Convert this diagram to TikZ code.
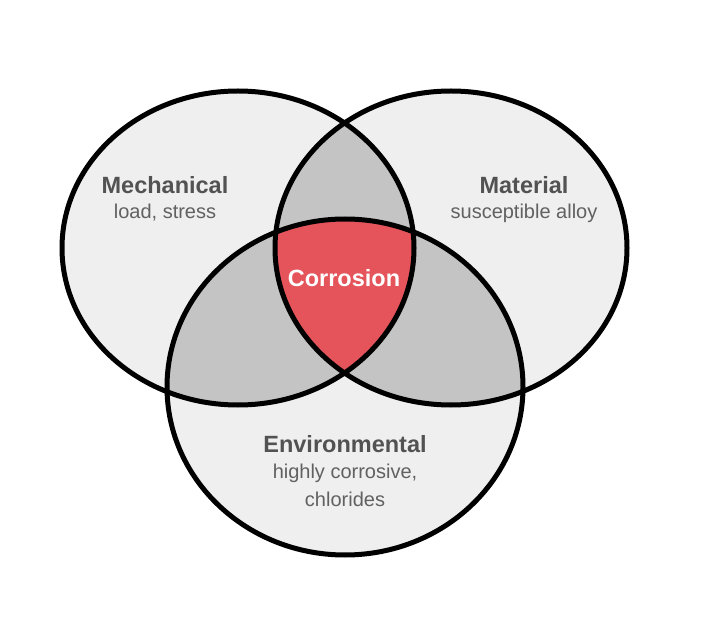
\documentclass[tikz,border=0pt]{standalone}
\usepackage{fontspec}
\setmainfont{Liberation Sans}
\begin{document}
\begin{tikzpicture}[x=1pt,y=-1pt,
  outline/.style={line width=5pt,draw=black},
  head/.style={font=\bfseries\fontsize{23.5}{26}\selectfont,text=black!68},
  sub/.style={font=\fontsize{20}{28}\selectfont,text=black!62,align=center}]
\definecolor{light}{HTML}{EFEFEF}
\definecolor{mid}{HTML}{C4C4C4}
\definecolor{red}{HTML}{E5545A}
\useasboundingbox (0,0) rectangle (726,628);
\def\A{(238,248) ellipse [x radius=176,y radius=157]}
\def\B{(451,248) ellipse [x radius=176,y radius=157]}
\def\C{(345,387) ellipse [x radius=178,y radius=168]}
\fill[light] \A; \fill[light] \B; \fill[light] \C;
\begin{scope}\clip \A; \fill[mid] \B; \fill[mid] \C;\end{scope}
\begin{scope}\clip \B; \fill[mid] \C;\end{scope}
\begin{scope}\clip \A; \clip \B; \fill[red] \C;\end{scope}
\draw[outline] \A; \draw[outline] \B; \draw[outline] \C;
\node[head] (mech) at (165,185) {Mechanical};
\node[sub] (mechs) at (165,213) {load, stress};
\node[head] (mat) at (524,185) {Material};
\node[sub] (mats) at (524,213) {susceptible alloy};
\node[head,text=white] (cor) at (344,278) {Corrosion};
\node[head] (env) at (345,444) {Environmental};
\node[sub] (envs) at (345,485) {highly corrosive,\\chlorides};
\end{tikzpicture}
\end{document}
